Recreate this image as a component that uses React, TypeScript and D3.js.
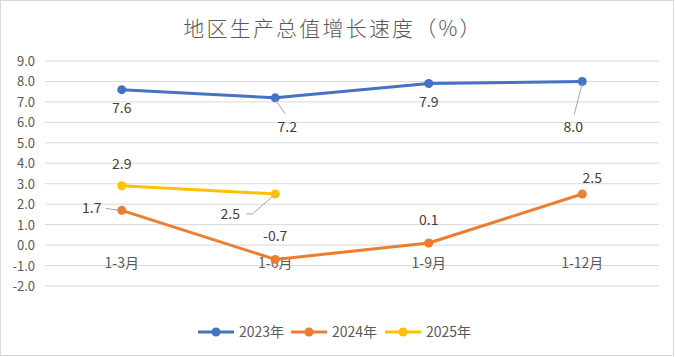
import React from "react";
import * as d3 from "d3";

const categories = ["1-3月", "1-6月", "1-9月", "1-12月"];
const seriesNames = ["2023年", "2024年", "2025年"];
const values2023 = [7.6, 7.2, 7.9, 8.0];
const values2024 = [1.7, -0.7, 0.1, 2.5];
const values2025 = [2.9, 2.5];
const yTicks = [-2, -1, 0, 1, 2, 3, 4, 5, 6, 7, 8, 9];
const title = "地区生产总值增长速度（%）";

const colors = ["#4472C4", "#ED7D31", "#FFC000"];
// label offsets (dx, dy) relative to point, and whether to draw a leader line
const labelOffsets: [number, number, boolean][][] = [
  [[0, 18, false], [12, 29, true], [0, 18, false], [-9, 46, true]],
  [[-30, -2, true], [0, -23, false], [0, -23, false], [10, -16, false]],
  [[0, -22, false], [-45, 20, true]],
];

const W = 675, H = 357;
const FONT = "'Noto Sans CJK SC', 'Noto Sans', sans-serif";

export default function App() {
  const x = d3.scaleBand().domain(categories).range([45, 659]);
  const y = d3.scaleLinear().domain([-2, 9]).range([286, 61]);
  const data = [values2023, values2024, values2025];
  const line = d3
    .line<number>()
    .x((_, i) => (x(categories[i]) as number) + x.bandwidth() / 2)
    .y((d) => y(d));
  const legendX = [198, 291, 385];

  return (
    <svg width={W} height={H} style={{ position: "absolute", left: 0, top: 0, fontFamily: FONT }}>
      <rect x={0.5} y={0.5} width={W - 2} height={H - 2} fill="#fff" stroke="#d9d9d9" />
      <text x={333} y={36} textAnchor="middle" fontSize={21} letterSpacing={2.2} fill="#595959" fontWeight={300}>
        {title}
      </text>
      {yTicks.map((t) => (
        <g key={t}>
          <line x1={45} x2={659} y1={y(t)} y2={y(t)} stroke="#d9d9d9" strokeWidth={1} />
          <text x={35} y={y(t) + 5} textAnchor="end" fontSize={13} fill="#595959">
            {t.toFixed(1)}
          </text>
        </g>
      ))}
      {categories.map((c) => (
        <text
          key={c}
          x={(x(c) as number) + x.bandwidth() / 2}
          y={y(0) + 23}
          textAnchor="middle"
          fontSize={14}
          fill="#595959"
        >
          {c}
        </text>
      ))}
      {data.map((vals, si) => (
        <g key={si}>
          <path d={line(vals) as string} fill="none" stroke={colors[si]} strokeWidth={3} strokeLinejoin="round" />
          {vals.map((v, i) => {
            const cx = (x(categories[i]) as number) + x.bandwidth() / 2;
            const cy = y(v);
            return <circle key={i} cx={cx} cy={cy} r={4.5} fill={colors[si]} />;
          })}
        </g>
      ))}
      {data.map((vals, si) =>
        vals.map((v, i) => {
          const cx = (x(categories[i]) as number) + x.bandwidth() / 2;
          const cy = y(v);
          const [dx, dy, leader] = labelOffsets[si][i];
          const lx = cx + dx;
          const ly = cy + dy;
          let leaderEl = null;
          if (leader) {
            if (si === 0) {
              leaderEl = <line x1={cx} y1={cy + 2} x2={lx + (dx > 0 ? -2 : 1)} y2={ly - 13} stroke="#a6a6a6" />;
            } else if (si === 1) {
              leaderEl = <line x1={lx + 14} y1={ly} x2={cx - 3} y2={cy} stroke="#a6a6a6" />;
            } else {
              leaderEl = (
                <polyline
                  points={`${lx + 16},${ly} ${lx + 22},${ly} ${cx - 2},${cy + 2}`}
                  fill="none"
                  stroke="#a6a6a6"
                />
              );
            }
          }
          return (
            <g key={`${si}-${i}`}>
              {leaderEl}
              <text x={lx} y={ly + 5} textAnchor="middle" fontSize={14} fill="#404040">
                {v.toFixed(1)}
              </text>
            </g>
          );
        })
      )}
      {seriesNames.map((n, i) => (
        <g key={n}>
          <line x1={legendX[i]} x2={legendX[i] + 36} y1={332} y2={332} stroke={colors[i]} strokeWidth={3} />
          <circle cx={legendX[i] + 18} cy={332} r={4.5} fill={colors[i]} />
          <text x={legendX[i] + 41} y={337} fontSize={14} fill="#595959">
            {n}
          </text>
        </g>
      ))}
    </svg>
  );
}
